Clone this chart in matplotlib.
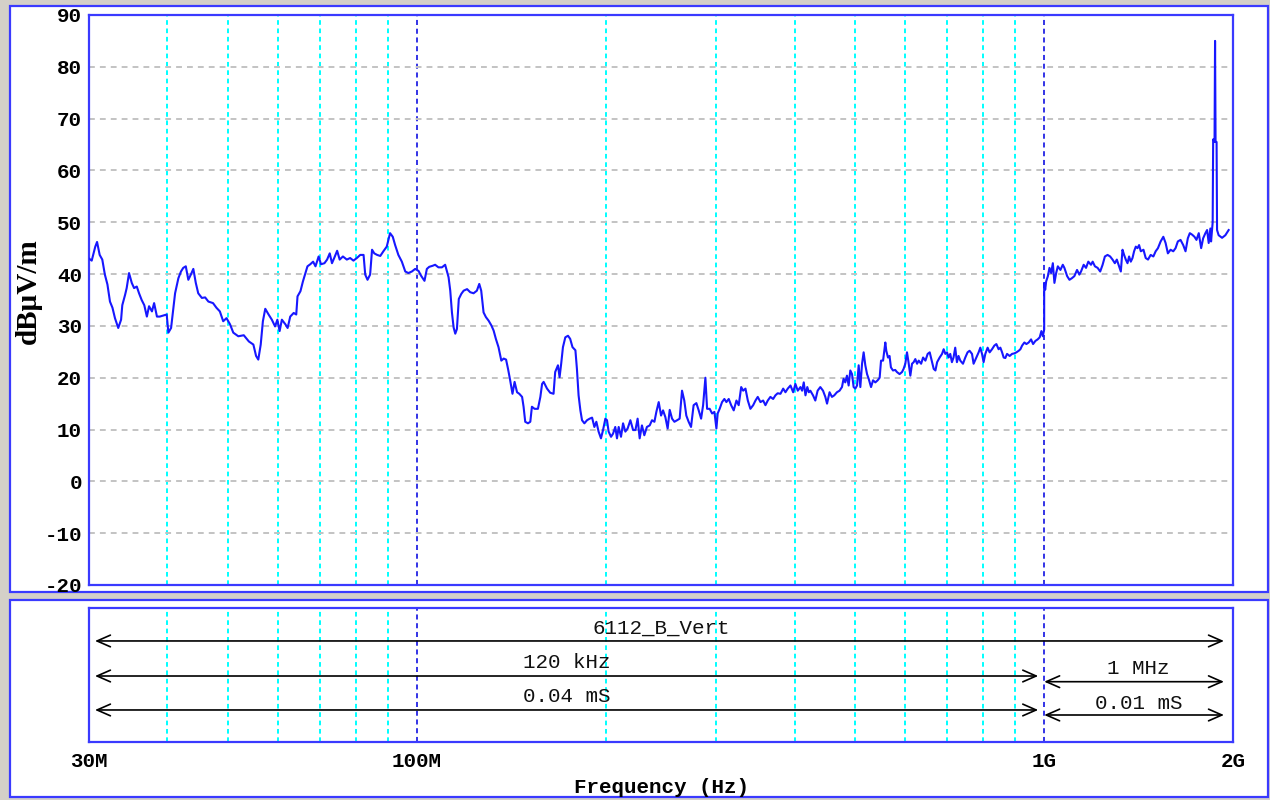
import matplotlib
matplotlib.use('Agg')
import matplotlib.pyplot as plt
from matplotlib.patches import Rectangle
from matplotlib.ticker import NullLocator

# radiated emission sweep, frequency in MHz, level in dBuV/m
freq_mhz = [
    30.0, 30.3, 30.7, 30.9, 31.2, 31.5, 31.8, 32.1, 32.4, 32.7,
    33.0, 33.4, 33.75, 33.9, 34.25, 34.45, 34.75, 35.1, 35.4, 35.75,
    36.05, 36.4, 36.75, 37.1, 37.4, 37.8, 38.1, 38.5, 38.9, 39.4,
    39.9, 40.15, 40.55, 40.9, 41.15, 41.65, 42.05, 42.4, 42.8, 43.2,
    43.6, 44.0, 44.4, 44.8, 45.4, 45.95, 46.5, 47.3, 47.9, 48.5,
    49.1, 49.7, 50.35, 50.95, 51.9, 52.95, 53.95,
    54.85, 55.4, 55.85, 56.35, 56.8, 57.3, 58.0, 58.7, 59.4, 59.9,
    60.4, 60.9, 61.7, 62.2, 62.8, 63.6, 64.2, 64.5, 65.2, 65.8,
    66.4, 66.9, 67.6, 68.3, 68.9, 69.7, 70.3, 71.2, 71.9, 72.6,
    73.2, 73.8, 74.6, 75.3, 76.2, 77.3, 78.25, 79.2, 80.2, 81.2,
    82.2, 82.7, 83.4, 84.2, 84.8, 85.5, 86.4, 87.4, 88.4, 89.5,
    90.6, 91.5, 92.3, 93.4, 94.6, 95.8, 96.9, 98.15,
    99.35, 100.6, 101.5, 102.8, 103.7, 104.6, 105.9, 106.9, 108.2, 109.6,
    110.9, 111.6, 112.3, 113.0, 113.7, 114.4, 115.1, 115.8, 116.6, 117.7,
    118.7, 120.2, 121.6, 123.1, 124.6, 125.7, 126.6, 127.7, 128.8, 130.1,
    131.4, 132.5, 133.6, 134.9, 136.3, 137.5, 138.7, 139.7, 140.8, 142.0,
    143.1, 144.4, 145.6, 147.1, 147.9, 148.8, 150.3, 151.6, 152.5, 154.0,
    155.9, 157.3, 158.3, 159.2, 161.2, 163.1, 165.1, 166.1, 167.8, 168.8,
    169.8, 170.9, 172.4, 174.1, 175.5, 177.0, 178.9, 179.9, 181.0, 182.2,
    183.3, 184.9, 186.7, 188.5, 190.2, 191.8, 193.2, 194.8, 196.5, 198.0,
    199.7, 200.9, 202.1, 203.9, 205.4, 207.1, 208.4, 209.7, 211.5, 213.1,
    214.9, 216.7, 218.9, 221.1, 223.0, 224.8, 226.5, 228.4, 230.4, 232.6,
    235.0, 237.0, 239.1, 240.8, 242.9, 245.0, 246.8, 248.9, 251.0, 252.9,
    255.1, 257.3, 259.9, 262.3, 264.6, 266.8, 268.8, 271.1, 273.5, 276.1,
    278.9, 281.3, 283.8, 285.9, 288.3, 290.1, 292.9, 295.5, 298.0, 300.2,
    301.6, 303.8, 306.5, 309.1, 311.4, 314.1, 316.9, 319.9, 323.1, 325.8,
    328.8, 331.2, 334.0, 336.9, 340.1, 343.6, 346.5, 349.4, 352.9, 356.4,
    359.4, 362.5, 366.0, 369.7, 372.8, 375.9, 379.8, 383.6, 386.8, 390.1,
    394.0, 397.9, 401.2, 404.7, 408.7,
    411.2, 413.7, 416.3, 419.1, 421.5, 423.8, 428.0, 431.6, 435.3, 439.6,
    444.0, 447.8, 450.6, 454.8, 458.8, 462.7, 467.3, 471.8, 476.0, 478.8,
    481.8, 484.8, 487.8, 490.8, 493.9, 496.8, 499.9, 503.1, 506.1, 509.2,
    512.4, 515.4, 518.6, 521.9, 525.0, 529.6, 533.5, 538.0, 542.6, 546.6,
    549.4, 553.5, 558.1, 560.1, 563.6, 566.8, 569.7, 574.0, 578.8, 582.4,
    588.1, 593.4, 596.8, 600.6, 604.3, 607.7, 611.8, 615.6, 619.3, 623.1,
    627.1, 630.9, 636.5, 641.1, 646.6, 652.0, 656.9, 662.8, 666.6, 670.8,
    675.0, 681.3, 687.3, 691.4, 695.7, 700.0, 704.1, 708.3, 712.7, 716.9,
    721.4, 725.9, 730.2, 734.9, 742.2, 748.5, 754.8, 760.4, 767.2, 771.7,
    779.5, 786.1, 791.0, 796.0, 800.6, 805.6, 812.5, 818.5, 825.7, 832.8,
    839.0, 845.9, 851.4, 856.8, 861.8, 867.1, 872.5, 881.0, 888.8, 896.3,
    903.0, 910.7, 916.4, 922.1, 929.9, 936.8, 944.7, 953.0, 960.1, 968.2,
    976.3, 983.7, 989.8, 995.0, 1000.0,
    1000.0, 1003.7, 1007.3, 1013.6, 1019.6, 1025.9, 1032.3, 1038.3, 1044.9, 1051.4,
    1061.4, 1070.7, 1077.0, 1088.0, 1097.2, 1106.9, 1117.1, 1128.2, 1137.7, 1144.8,
    1156.0, 1166.0, 1175.8, 1187.4, 1194.8, 1204.8, 1216.7, 1228.3, 1239.2, 1249.6,
    1261.9, 1274.0, 1285.2, 1296.1, 1305.6, 1316.6, 1324.9, 1333.1, 1341.0, 1349.3,
    1357.8, 1365.8, 1374.3, 1382.9, 1391.0, 1399.8, 1408.5, 1416.8, 1425.7, 1439.8,
    1451.6, 1464.0, 1478.4, 1493.0, 1505.6, 1518.3, 1533.4, 1548.6, 1561.6, 1574.8,
    1590.4, 1606.2, 1619.7, 1633.4, 1649.6, 1665.9, 1680.1, 1694.3, 1706.8, 1721.8,
    1736.2, 1749.0, 1763.8, 1779.3, 1792.3, 1807.3, 1818.6, 1829.3, 1840.6, 1845.3,
    1856.2, 1859.5, 1869.0, 1872.5, 1876.0, 1883.0, 1886.3, 1897.4, 1921.3, 1944.6,
    1968.3,
]

level_dbuv = [
    43.0, 42.6, 45.3, 46.2, 43.7, 42.8, 39.9, 38.0, 34.7, 33.5,
    31.5, 29.6, 31.2, 34.0, 36.0, 37.3, 40.2, 38.3, 37.3, 37.6,
    36.3, 35.0, 34.0, 31.8, 33.8, 32.8, 34.4, 31.8, 31.8, 32.0,
    32.2, 28.7, 29.6, 33.5, 36.3, 39.2, 40.5, 41.2, 41.5, 38.9,
    39.9, 41.0, 38.3, 36.3, 35.4, 35.5, 34.7, 34.4, 33.5, 32.8,
    30.9, 31.5, 30.3, 28.7, 28.0, 28.2, 27.0,
    26.4, 24.2, 23.5, 26.4, 30.9, 33.3, 32.2, 31.2, 29.9, 31.2,
    29.0, 31.2, 30.3, 29.6, 31.8, 32.5, 32.2, 35.7, 36.7, 38.6,
    40.2, 41.5, 41.9, 42.4, 41.5, 43.4, 41.9, 42.1, 42.8, 44.0,
    42.1, 43.1, 44.5, 42.8, 43.4, 42.8, 43.1, 42.6, 43.1, 43.7,
    43.7, 39.9, 38.9, 39.9, 44.7, 44.0, 43.7, 43.5, 44.4, 45.3,
    47.9, 47.2, 45.6, 43.7, 42.4, 40.5, 40.2, 40.5,
    41.0, 40.6, 39.7, 38.7, 41.0, 41.4, 41.6, 41.8, 41.3, 41.3,
    41.8, 40.6, 39.4, 36.8, 32.6, 29.7, 28.5, 29.4, 35.2, 36.2,
    36.8, 37.1, 36.5, 36.3, 36.8, 38.1, 36.8, 32.6, 31.7, 31.0,
    30.1, 29.1, 27.5, 25.9, 23.3, 23.7, 23.5, 21.7, 19.5, 16.9,
    19.2, 17.2, 16.9, 16.3, 14.4, 11.5, 11.2, 11.5, 14.4, 14.0,
    14.0, 16.3, 18.8, 19.2, 17.9, 17.1, 16.9, 21.1, 22.4, 20.1,
    22.7, 25.9, 27.8, 28.1, 27.5, 25.9, 25.3, 21.7, 16.6, 13.7,
    11.8, 11.2, 11.8, 12.1, 12.3, 10.5, 11.5, 9.6, 8.3, 9.9,
    12.1, 11.8, 9.6, 8.6, 9.2, 10.5, 8.3, 10.5, 8.6, 11.2,
    9.6, 10.2, 11.8, 9.9, 9.9, 12.1, 8.3, 10.8, 8.9, 10.5,
    10.8, 11.8, 11.5, 13.4, 15.3, 12.7, 13.7, 12.4, 10.2, 13.8,
    12.1, 11.5, 11.8, 12.1, 17.5, 15.6, 12.7, 11.5, 10.5, 14.7,
    15.1, 13.7, 12.1, 14.7, 20.0, 14.0, 14.0, 13.1, 13.4, 10.2,
    13.1, 14.0, 15.3, 15.9, 15.3, 15.9, 14.7, 13.7, 15.6, 14.7,
    18.2, 17.5, 17.9, 15.6, 14.0, 14.7, 15.6, 16.3, 15.3, 15.6,
    14.7, 15.6, 16.3, 15.9, 16.6, 17.0, 16.9, 17.9, 17.2, 17.9,
    18.5, 17.2, 18.8, 17.5, 18.2,
    17.5, 19.1, 16.6, 18.2, 17.2, 17.5, 16.6, 15.6, 17.5, 18.2,
    17.5, 16.3, 15.0, 17.2, 16.3, 16.6, 17.2, 17.5, 18.2, 19.8,
    19.1, 20.4, 18.5, 21.4, 20.7, 18.2, 17.9, 18.5, 22.4, 18.2,
    22.7, 24.9, 22.4, 20.7, 19.8, 18.2, 19.5, 19.1, 19.5, 20.0,
    23.3, 23.3, 26.8, 25.2, 23.9, 24.2, 22.0, 21.4, 21.5, 21.1,
    20.7, 21.1, 21.7, 22.7, 24.9, 23.0, 20.4, 22.7, 23.0, 23.6,
    22.7, 23.3, 22.7, 23.9, 23.3, 24.6, 24.9, 23.0, 21.7, 21.4,
    23.0, 23.9, 24.6, 25.5, 24.6, 24.9, 23.9, 24.6, 23.0, 23.9,
    25.8, 23.0, 24.2, 23.3, 22.7, 23.9, 24.9, 25.2, 24.6, 22.7,
    23.9, 24.9, 25.8, 24.6, 23.0, 24.6, 25.8, 24.9, 25.5, 26.2,
    26.5, 25.5, 25.8, 24.9, 23.9, 23.8, 24.6, 24.2, 24.6, 24.7,
    24.9, 25.2, 25.5, 26.2, 26.8, 26.5, 26.8, 27.4, 26.5, 27.1,
    27.4, 27.8, 29.0, 28.0, 29.3,
    38.3, 37.0, 38.6, 39.6, 41.2, 40.2, 42.1, 38.3, 40.2, 41.5,
    40.8, 41.8, 41.2, 39.6, 38.9, 39.2, 39.6, 40.8, 39.9, 40.5,
    41.8, 41.2, 42.4, 41.8, 42.4, 41.5, 41.2, 40.5, 41.8, 43.4,
    43.7, 43.4, 42.8, 42.1, 42.8, 41.5, 40.5, 44.7, 43.7, 42.8,
    42.1, 43.4, 42.4, 43.1, 44.4, 45.3, 45.0, 45.6, 44.4, 44.7,
    43.1, 42.8, 43.7, 43.4, 44.4, 45.0, 46.3, 47.2, 46.0, 44.0,
    44.7, 44.4, 45.0, 46.3, 46.6, 45.6, 44.4, 46.9, 47.9, 47.6,
    47.2, 46.6, 47.9, 45.0, 46.9, 47.9, 48.5, 46.0, 48.8, 46.3,
    50.0, 66.0, 65.5, 85.0, 65.5, 65.5, 48.5, 47.5, 47.0, 47.5,
    48.5,
]

y_ticks = list(range(-20, 91, 10))
tick_freqs = [30, 100, 1000, 2000]
tick_labels = ['30M', '100M', '1G', '2G']
minor_freqs = [40, 50, 60, 70, 80, 90, 200, 300, 400, 500, 600, 700, 800, 900]
decade_freqs = [100, 1000]

# scan settings per frequency band
band_labels = ['6112_B_Vert', '120 kHz', '0.04 mS', '1 MHz', '0.01 mS']
band_start = [30, 30, 30, 1000, 1000]
band_stop = [2000, 1000, 1000, 2000, 2000]

# vertical placement of the band arrows and their captions (axes fraction)
arrow_y = [0.754, 0.4925, 0.239, 0.45, 0.2015]
text_y = [0.851, 0.597, 0.343, 0.552, 0.291]

BG = '#d4d0c8'
FRAME = '#3a3aff'
TRACE = '#1717ff'
MONO = 'Liberation Mono'

fig = plt.figure(figsize=(12.7, 8), dpi=100, facecolor=BG)

# white panels with a blue border behind each plot
for bottom, height in [(208 / 800, 586 / 800), (3 / 800, 197 / 800)]:
    fig.add_artist(Rectangle((10 / 1270, bottom), 1258 / 1270, height,
                             transform=fig.transFigure, facecolor='white',
                             edgecolor=FRAME, lw=1.6, zorder=-5))

ax = fig.add_axes([89 / 1270, 215 / 800, 1144 / 1270, 570 / 800])
axb = fig.add_axes([89 / 1270, 58 / 800, 1144 / 1270, 134 / 800])

for a in (ax, axb):
    a.set_xscale('log')
    a.set_xlim(30, 2000)
    a.set_facecolor('white')
    for s in a.spines.values():
        s.set_color(FRAME)
        s.set_linewidth(1.6)
    for f in minor_freqs:
        a.axvline(f, color='#00ffff', lw=1.4, ls=(0, (2.4, 1.9)), zorder=1)
    for f in decade_freqs:
        a.axvline(f, color='#3333e6', lw=1.4, ls=(0, (2.6, 1.9)), zorder=1)
    a.xaxis.set_minor_locator(NullLocator())

for v in y_ticks[1:-1]:
    ax.axhline(v, color='#c3c3c3', lw=1.4, ls=(0, (3.0, 2.6)), zorder=1)

ax.plot(freq_mhz, level_dbuv, color=TRACE, lw=1.5, zorder=3)

ax.set_ylim(-20, 90)
ax.set_yticks(y_ticks)
ax.set_yticklabels([str(v) for v in y_ticks], family=MONO, fontweight='bold', fontsize=15)
ax.tick_params(axis='y', length=0, pad=5)
ax.xaxis.set_major_locator(NullLocator())
ax.set_ylabel('dBµV/m', family='Liberation Serif', fontweight='bold', fontsize=21)
ax.yaxis.set_label_coords(-0.041, 0.515)

axb.set_ylim(0, 1)
axb.set_yticks([])
axb.set_xticks(tick_freqs)
axb.set_xticklabels(tick_labels, family=MONO, fontweight='bold', fontsize=15)
axb.tick_params(axis='x', length=0, pad=7)
axb.set_xlabel('Frequency (Hz)', family=MONO, fontweight='bold', fontsize=15, labelpad=5)

trans = axb.get_xaxis_transform()
for i, label in enumerate(band_labels):
    f0, f1 = band_start[i], band_stop[i]
    shrink0 = 4.3 if f0 == 30 else 0.0
    shrink1 = 4.3 if f1 == 1000 else 6.5
    axb.annotate('', xy=(f1, arrow_y[i]), xytext=(f0, arrow_y[i]),
                 xycoords=trans, textcoords=trans,
                 arrowprops=dict(arrowstyle='<->,head_length=0.8,head_width=0.35',
                                 color='black', lw=1.2, mutation_scale=12,
                                 shrinkA=shrink0, shrinkB=shrink1))
    axb.text((f0 * f1) ** 0.5, text_y[i], label, transform=trans,
             ha='center', va='center', family=MONO, fontsize=15, color='#111111')

fig.savefig('out.png', dpi=100, facecolor=BG)
